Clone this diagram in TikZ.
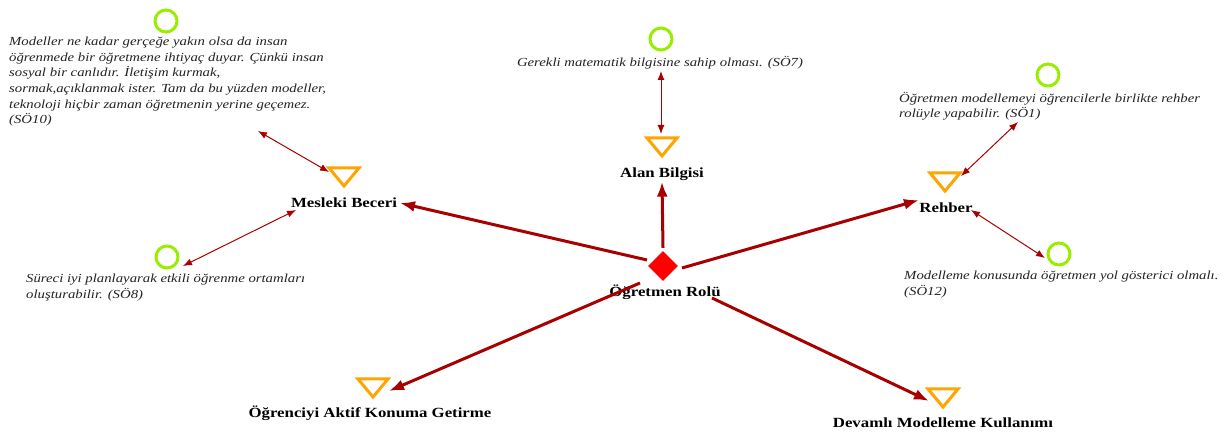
\documentclass[tikz,border=0pt]{standalone}
\usepackage{fontspec}
\setmainfont{Liberation Serif}[FakeStretch=1.2]
\usetikzlibrary{shapes.geometric,arrows.meta}
\definecolor{darkred}{HTML}{A80000}
\definecolor{lime}{HTML}{99EE00}
\definecolor{orng}{HTML}{FFA500}
\definecolor{txt}{HTML}{222222}
\tikzset{
  x=1pt,y=-1pt,
  lbl/.style={font=\fontsize{14}{16}\selectfont\bfseries, inner sep=1pt},
  quote/.style={font=\fontsize{12.3}{15.6}\selectfont\itshape, text=txt, align=left, inner sep=0pt},
  ring/.style={circle, draw=lime, line width=3pt, minimum size=22pt, inner sep=0pt},
  mainarrow/.style={draw=darkred, line width=3pt, -{Latex[length=15pt,width=11pt]}},
  thinarrow/.style={draw=darkred, line width=1pt, {Latex[length=9pt,width=7pt]}-{Latex[length=9pt,width=7pt]}},
  tri/.pic={\draw[orng, line width=3pt, line join=miter] (-15,-9) -- (15,-9) -- (0,9) -- cycle;}
}
\begin{document}
\begin{tikzpicture}
\useasboundingbox (0,0) rectangle (1221,435);
% centre
\node[diamond, fill=red, minimum size=30pt, inner sep=0pt] (root) at (663,266) {};
\node[lbl] (rootlbl) at (665,292) {Öğretmen Rolü};
% Alan Bilgisi
\pic (tA) at (662,147) {tri};
\coordinate (tAtop) at (661,134);
\node[lbl] (alan) at (662,174) {Alan Bilgisi};
\node[ring] (cA) at (661,39) {};
\node[quote] (qA) at (660,63) {Gerekli matematik bilgisine sahip olması. (SÖ7)};
\draw[thinarrow] (661,71) coordinate (qAb) -- (tAtop);
\draw[mainarrow] (root.north) ++(0,-3) coordinate (rA) -- (alan.south);
% Mesleki Beceri
\pic (tM) at (344,177) {tri};
\node[lbl] (mes) at (344,203) {Mesleki Beceri};
\node[ring] (cM1) at (166,21) {};
\node[quote, anchor=north west] (qM1) at (9,37) {Modeller ne kadar gerçeğe yakın olsa da insan\\öğrenmede bir öğretmene ihtiyaç duyar. Çünkü insan\\sosyal bir canlıdır. İletişim kurmak,\\sormak,açıklanmak ister. Tam da bu yüzden modeller,\\teknoloji hiçbir zaman öğretmenin yerine geçemez.\\(SÖ10)};
\coordinate (qM1b) at (258,131);
\coordinate (tMl) at (329,172);
\draw[thinarrow] (qM1b) -- (tMl);
\node[ring] (cM2) at (167,257) {};
\node[quote, anchor=north west] (qM2) at (26,274) {Süreci iyi planlayarak etkili öğrenme ortamları\\oluşturabilir. (SÖ8)};
\coordinate (mesb) at (296,210);
\coordinate (cM2r) at (183,266);
\draw[thinarrow] (mesb) -- (cM2r);
\coordinate (rM) at (647,260);
\coordinate (mesr) at (400,203);
\draw[mainarrow] (rM) -- (mesr);
% Rehber
\pic (tR) at (945,182) {tri};
\node[lbl] (reh) at (946,208) {Rehber};
\node[ring] (cR1) at (1048,75) {};
\node[quote, anchor=north west] (qR1) at (899,92) {Öğretmen modellemeyi öğrencilerle birlikte rehber\\rolüyle yapabilir. (SÖ1)};
\coordinate (qR1b) at (1018,122);
\coordinate (tRr) at (961,176);
\draw[thinarrow] (qR1b) -- (tRr);
\node[ring] (cR2) at (1059,254) {};
\node[quote, anchor=north west] (qR2) at (904,271) {Modelleme konusunda öğretmen yol gösterici olmalı.\\(SÖ12)};
\coordinate (rehr) at (971,210);
\coordinate (cR2l) at (1045,258);
\draw[thinarrow] (rehr) -- (cR2l);
\coordinate (rR) at (682,268);
\coordinate (rehl) at (919,200);
\draw[mainarrow] (rR) -- (rehl);
% Ogrenciyi Aktif
\pic (tO) at (373,388) {tri};
\node[lbl] (ogr) at (370,413) {Öğrenciyi Aktif Konuma Getirme};
\coordinate (rO) at (640,283);
\coordinate (tOr) at (389,391);
\draw[mainarrow] (rO) -- (tOr);
% Devamli
\pic (tD) at (943,398) {tri};
\node[lbl] (dev) at (943,423) {Devamlı Modelleme Kullanımı};
\coordinate (rD) at (712,298);
\coordinate (tDl) at (929,401);
\draw[mainarrow] (rD) -- (tDl);
\end{tikzpicture}
\end{document}
